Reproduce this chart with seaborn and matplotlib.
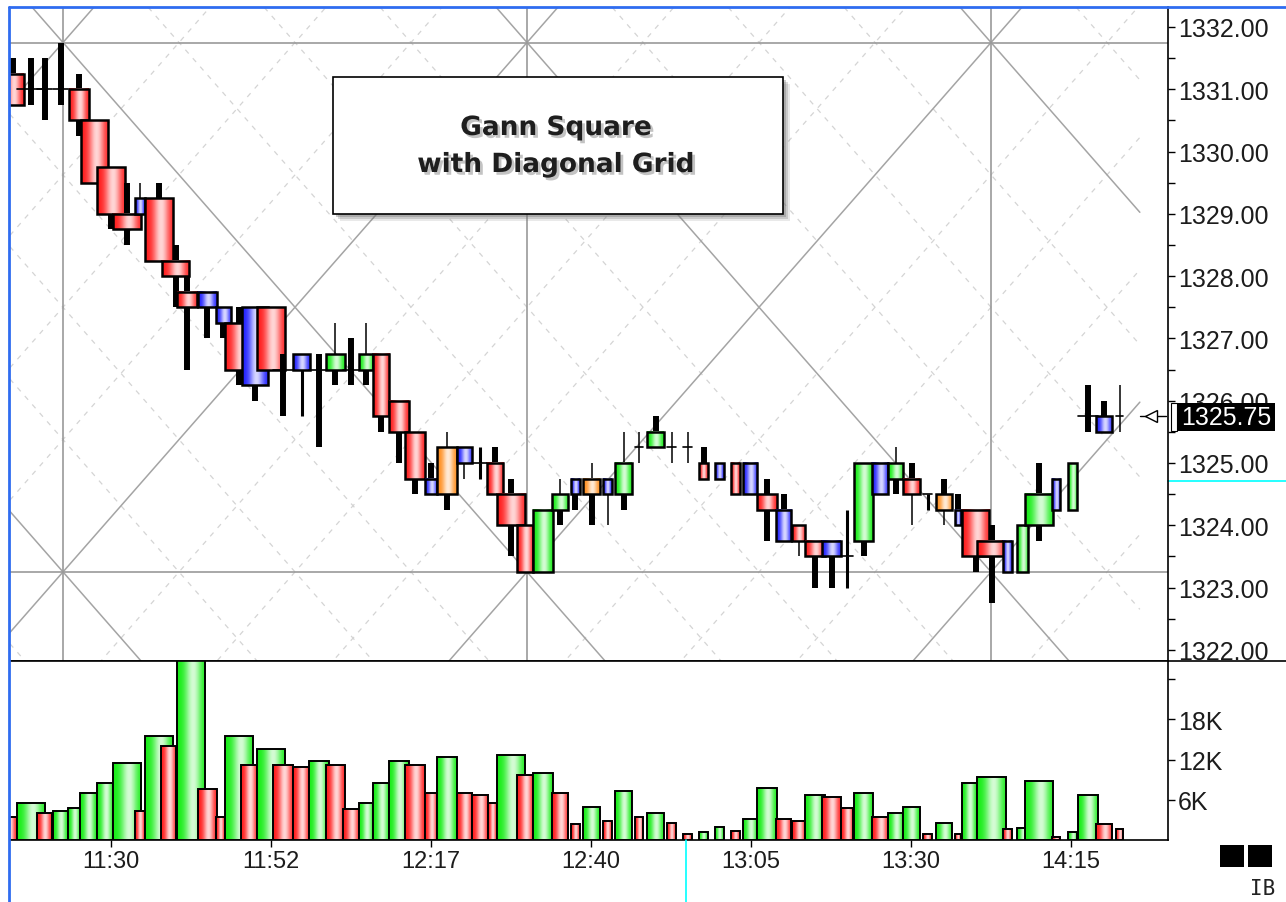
import numpy as np
import matplotlib
matplotlib.use("Agg")
import matplotlib.pyplot as plt
import matplotlib.patheffects as pe
from matplotlib.patches import Rectangle
from matplotlib.lines import Line2D
import seaborn as sns

# ------------------------------
# Bar data (x axis = bar number, 70 intraday bars)
# ------------------------------
bar_start = [-0.8, 0.12, 1.38, 2.38, 3.31, 4.06, 5.12, 6.12, 7.5, 8.12,
             9.12, 10.12, 11.44, 12.56, 13.12, 14.12, 15.12, 16.12, 17.38, 18.38,
             19.44, 20.5, 21.5, 22.38, 23.38, 24.38, 25.62, 26.38, 27.62, 28.56,
             29.56, 30.12, 31.38, 32.38, 33.56, 34.75, 35.5, 36.75, 37.5, 38.75,
             39.5, 40.75, 41.75, 42.75, 43.75, 44.75, 45.5, 46.38, 47.56, 48.56,
             49.38, 50.44, 51.62, 52.44, 53.56, 54.56, 55.5, 56.75, 57.56, 58.75,
             59.19, 60.12, 61.75, 62.62, 63.12, 64.81, 65.81, 66.44, 67.56, 68.81]
bar_end = [0.12, 1.88, 2.31, 3.31, 4.06, 5.12, 6.12, 7.88, 8.12, 9.88,
           10.06, 11.88, 12.62, 13.12, 14.88, 15.12, 16.88, 17.38, 18.44, 19.62,
           20.62, 21.5, 22.38, 23.38, 24.62, 25.62, 26.38, 27.62, 28.56, 29.56,
           30.12, 31.88, 32.38, 33.62, 34.56, 35.31, 36.56, 37.31, 38.56, 39.25,
           40.56, 41.31, 42.31, 43.31, 44.31, 45.31, 46.38, 47.62, 48.5, 49.38,
           50.62, 51.62, 52.38, 53.62, 54.56, 55.5, 56.56, 57.31, 58.56, 59.12,
           60.12, 61.94, 62.31, 63.31, 64.88, 65.31, 66.38, 67.69, 68.56, 69.25]
# candle bodies that are wider than their volume bar
body_span_fix = {0: (-0.8, 0.56), 4: (3.38, 4.62), 5: (4.12, 5.81), 6: (5.12, 6.88),
                 10: (9.19, 10.88), 11: (10.12, 11.38), 13: (12.56, 13.5),
                 15: (14.19, 15.81), 30: (29.5, 30.5), 60: (59.19, 60.88)}

opens = [1331.25, 1331.0, 1331.0, 1331.0, 1331.0, 1330.5, 1329.75, 1329.0, 1329.0, 1329.25,
         1328.25, 1327.75, 1327.5, 1327.25, 1327.25, 1326.25, 1327.5, 1326.5, 1326.5, 1326.5,
         1326.5, 1326.5, 1326.5, 1326.75, 1326.0, 1325.5, 1324.5, 1324.5, 1325.0, 1325.0,
         1325.0, 1324.5, 1324.0, 1323.25, 1324.25, 1324.5, 1324.5, 1324.5, 1324.5, 1325.25,
         1325.25, 1325.25, 1325.25, 1325.0, 1324.75, 1325.0, 1324.5, 1324.5, 1323.75, 1324.0,
         1323.75, 1323.5, 1323.5, 1323.75, 1324.5, 1324.75, 1324.75, 1324.5, 1324.25, 1324.0,
         1324.25, 1323.75, 1323.25, 1323.25, 1324.0, 1324.25, 1324.25, 1325.75, 1325.5, 1325.75]
closes = [1330.75, 1331.0, 1331.0, 1331.0, 1330.5, 1329.5, 1329.0, 1328.75, 1329.25, 1328.25,
          1328.0, 1327.5, 1327.75, 1327.5, 1326.5, 1327.5, 1326.5, 1326.5, 1326.75, 1326.5,
          1326.75, 1326.5, 1326.75, 1325.75, 1325.5, 1324.75, 1324.75, 1325.25, 1325.25, 1325.0,
          1324.5, 1324.0, 1323.25, 1324.25, 1324.5, 1324.75, 1324.75, 1324.75, 1325.0, 1325.25,
          1325.5, 1325.25, 1325.25, 1324.75, 1325.0, 1324.5, 1325.0, 1324.25, 1324.25, 1323.75,
          1323.5, 1323.75, 1323.5, 1325.0, 1325.0, 1325.0, 1324.5, 1324.5, 1324.5, 1324.25,
          1323.5, 1323.5, 1323.75, 1324.0, 1324.5, 1324.75, 1325.0, 1325.75, 1325.75, 1325.75]
highs = [1331.5, 1331.5, 1331.5, 1331.75, 1331.25, 1330.5, 1329.75, 1329.5, 1329.5, 1329.5,
         1328.5, 1328.0, 1327.75, 1327.5, 1327.5, 1327.5, 1327.5, 1326.75, 1326.75, 1326.75,
         1327.25, 1327.0, 1327.25, 1326.75, 1326.0, 1325.5, 1325.0, 1325.5, 1325.25, 1325.25,
         1325.25, 1324.75, 1324.0, 1324.25, 1324.75, 1324.75, 1325.0, 1324.75, 1325.5, 1325.5,
         1325.75, 1325.5, 1325.5, 1325.25, 1325.0, 1325.0, 1325.0, 1324.75, 1324.5, 1324.0,
         1323.75, 1323.75, 1324.25, 1325.0, 1325.0, 1325.25, 1325.0, 1324.5, 1324.75, 1324.5,
         1324.25, 1324.0, 1323.75, 1324.0, 1325.0, 1324.75, 1325.0, 1326.25, 1326.0, 1326.25]
lows = [1330.75, 1330.75, 1330.5, 1330.75, 1330.25, 1329.5, 1328.75, 1328.5, 1329.0, 1328.25,
        1327.5, 1326.5, 1327.0, 1327.0, 1326.25, 1326.0, 1326.5, 1325.75, 1325.75, 1325.25,
        1326.25, 1326.25, 1326.25, 1325.5, 1325.0, 1324.5, 1324.5, 1324.25, 1324.75, 1324.75,
        1324.5, 1323.5, 1323.25, 1323.25, 1324.0, 1324.25, 1324.0, 1324.0, 1324.25, 1325.0,
        1325.25, 1325.0, 1325.0, 1324.75, 1324.75, 1324.5, 1324.5, 1323.75, 1323.75, 1323.5,
        1323.0, 1323.0, 1323.0, 1323.5, 1324.5, 1324.5, 1324.0, 1324.25, 1324.0, 1324.0,
        1323.25, 1322.75, 1323.25, 1323.25, 1323.75, 1324.25, 1324.25, 1325.5, 1325.5, 1325.5]
# r=red, g=green, b=blue, o=orange, d=doji (tick only)
body_color = ("rdddrrrrbr" "rrbbrbrdbd" "gdgrrrbobd" "rrrggbobgd"
              "gddrbrbrbr" "rbdgbgrdob" "rrbggbgdbd")
# upper / lower wick weight: K thick, M medium, T thin
wick_style = ["KK", "KK", "KK", "KK", "KK", "KK", "KK", "KK", "TK", "KK",
              "KK", "KK", "KK", "KK", "KK", "KK", "KK", "KK", "KM", "KK",
              "TK", "KK", "TK", "KK", "KK", "KK", "KK", "TK", "KT", "MM",
              "KK", "KK", "KK", "KK", "TK", "KK", "TK", "KT", "TK", "TT",
              "KK", "TT", "TT", "KK", "KK", "KK", "KK", "KK", "KK", "KT",
              "KK", "KK", "MM", "KK", "KK", "TK", "KT", "MM", "KT", "KK",
              "KK", "KK", "KK", "KK", "KK", "KK", "KK", "KK", "KK", "TT"]

volume = [3450, 5550, 4050, 4350, 4800, 7050, 8550, 11550, 4350, 15450,
          13950, 28000, 7650, 3450, 15450, 11250, 13500, 11250, 10950, 11850,
          11250, 4650, 5550, 8550, 11850, 11250, 7050, 12450, 7050, 6750,
          5550, 12750, 9750, 10050, 7050, 2400, 4950, 2850, 7350, 3450,
          4050, 2550, 900, 1200, 1950, 1350, 3150, 7800, 3150, 2850,
          6750, 6450, 4800, 7050, 3450, 4050, 4950, 900, 2550, 900,
          8550, 9450, 1650, 1800, 8850, 450, 1200, 6750, 2400, 1650]
volume_color = ("rgrgggggrg" "rgrrgrgrrg" "rrgggrrgrr" "rgrgrrgrgr"
                "grrggrggrr" "grrgrggrgr" "ggrggrggrr")

time_ticks = [6, 16, 26, 36, 46, 56, 66]
time_labels = ["11:30", "11:52", "12:17", "12:40", "13:05", "13:30", "14:15"]
price_ticks = np.arange(1322, 1333)
vol_ticks = [6000, 12000, 18000, 24000]
vol_labels = ["6K", "12K", "18K", ""]

# Gann square settings
gann_start = 3.0
gann_width = 29.0
gann_top = 1331.75
gann_bottom = 1323.25
gann_end = 70.3
last_price = 1325.75
cursor_price = 1324.71
cursor_bar = 41.94

# ------------------------------
# Style
# ------------------------------
sns.set_theme(style="white")
plt.rcParams['font.family'] = ['Liberation Sans', 'DejaVu Sans']

W, H = 1286, 903


def fx(x):
    return x / W


def fy(y):
    return 1 - y / H


base_rgb = {'r': (1.0, 0.1, 0.1), 'g': (0.08, 0.93, 0.08),
            'b': (0.12, 0.12, 1.0), 'o': (1.0, 0.55, 0.1)}


def shade(c):
    t = np.linspace(0, 1, 48)
    w = 0.82 * np.exp(-((t - 0.56) / 0.28) ** 2)
    rgb = np.array(base_rgb[c])[None, :] * (1 - w[:, None]) + w[:, None]
    return rgb[None, :, :]


fig = plt.figure(figsize=(W / 100, H / 100), dpi=100)
fig.patch.set_facecolor('white')
ax = fig.add_axes([fx(10), fy(662), fx(1158), 654 / H])
vax = fig.add_axes([fx(10), fy(841), fx(1158), 179 / H], sharex=ax)

xmin, xmax = -0.3125, 72.06
pmin, pmax = 1321.82, 1332.32

# ------------------------------
# Gann square with diagonal grid
# ------------------------------
slope = (gann_top - gann_bottom) / gann_width
gx = np.array([xmin, gann_end])
for k in range(-8, 16):
    xk = gann_start + k * gann_width / 4
    for s in (-slope, slope):
        gy = gann_top + s * (gx - xk)
        if k % 4 == 0:
            ax.plot(gx, gy, color='#a4a4a4', lw=1.1, zorder=1)
        else:
            ax.plot(gx, gy, color='#d4d4d4', lw=0.9, ls=(0, (4, 5)), zorder=0.5)
for j in range(3):
    ax.axvline(gann_start + j * gann_width, color='#9a9a9a', lw=1.2, zorder=1)
for p in (gann_top, gann_bottom):
    ax.axhline(p, color='#9a9a9a', lw=1.2, zorder=1)

# ------------------------------
# Candles
# ------------------------------
wick_lw = {'K': 4.3, 'M': 2.2, 'T': 1.1}
for i in range(len(opens)):
    l, r = body_span_fix.get(i, (bar_start[i], bar_end[i]))
    mid = (l + r) / 2
    top = max(opens[i], closes[i])
    bot = min(opens[i], closes[i])
    z = 3 + i * 0.01
    if highs[i] > top:
        ax.plot([mid, mid], [top, highs[i]], color='black',
                lw=wick_lw[wick_style[i][0]], solid_capstyle='butt', zorder=z)
    if lows[i] < bot:
        ax.plot([mid, mid], [lows[i], bot], color='black',
                lw=wick_lw[wick_style[i][1]], solid_capstyle='butt', zorder=z)
    c = body_color[i]
    if c == 'd':
        ax.plot([l, r], [opens[i], opens[i]], color='black', lw=1.2, zorder=z)
    else:
        ax.imshow(shade(c), extent=(l, r, bot, top), aspect='auto',
                  interpolation='bilinear', zorder=z + 0.002)
        ax.add_patch(Rectangle((l, bot), r - l, top - bot, fill=False,
                               ec='black', lw=1.8, zorder=z + 0.004))

# ------------------------------
# Volume
# ------------------------------
for i in range(len(volume)):
    l, r = bar_start[i], bar_end[i]
    z = 3 + i * 0.01
    vax.imshow(shade(volume_color[i]), extent=(l, r, 0, volume[i]), aspect='auto',
               interpolation='bilinear', zorder=z)
    vax.add_patch(Rectangle((l, 0), r - l, volume[i], fill=False,
                            ec='black', lw=1.4, zorder=z + 0.004))

# ------------------------------
# Axes
# ------------------------------
for a in (ax, vax):
    a.set_facecolor('white')
    a.grid(False)
    for side in ('left', 'top'):
        a.spines[side].set_visible(False)
    a.spines['right'].set_color('black')
    a.spines['right'].set_linewidth(1.2)
    a.spines['bottom'].set_color('black')
    a.spines['bottom'].set_linewidth(1.2)
    a.yaxis.tick_right()

ax.set_yticks(price_ticks)
ax.set_yticks(np.arange(1322.5, 1332.5, 0.5), minor=True)
ax.set_yticklabels([f"{v:.2f}" for v in price_ticks])
ax.tick_params(axis='y', which='both', direction='out', right=True, left=False,
               length=5, width=1, color='black', labelsize=18, labelcolor='#1c1c1c', pad=2)
ax.tick_params(axis='x', bottom=False, labelbottom=False)

vax.set_yticks(vol_ticks)
vax.set_yticklabels(vol_labels)
vax.tick_params(axis='y', direction='out', right=True, left=False, length=5, width=1,
                color='black', labelsize=18, labelcolor='#1c1c1c', pad=2)
vax.set_xticks(time_ticks)
vax.set_xticklabels(time_labels)
vax.tick_params(axis='x', direction='out', bottom=True, length=5, width=1,
                color='black', labelsize=17, labelcolor='#1c1c1c', pad=2)

# limits last: set_yticks can widen the view
ax.set_xlim(xmin, xmax)
ax.set_ylim(pmin, pmax)
vax.set_ylim(0, 26700)

# last price marker
ax.plot([70.3, 71.95], [last_price, last_price], color='black', lw=1, clip_on=False, zorder=6)
ax.plot([71.0], [last_price], marker='<', ms=8, mfc='white', mec='black', mew=1,
        clip_on=False, zorder=7)
fig.add_artist(Rectangle((fx(1171), fy(432)), fx(6), 28 / H, transform=fig.transFigure,
                         fc='white', ec='black', lw=0.8, zorder=8))
fig.add_artist(Rectangle((fx(1177), fy(432)), fx(98), 28 / H, transform=fig.transFigure,
                         fc='black', ec='none', zorder=8))
fig.text(fx(1226), fy(418), f"{last_price:.2f}", color='white', fontsize=18,
         ha='center', va='center', zorder=9)

# cursor remnants
ax.plot([xmax, xmax + 9], [cursor_price, cursor_price], color='cyan', lw=1.2,
        clip_on=False, zorder=2)
fig.add_artist(Line2D([fx(10 + (cursor_bar + 0.3125) * 16)] * 2, [fy(841), 0],
                      color='cyan', lw=1.2))

# frame lines
fig.add_artist(Line2D([fx(10), 1], [fy(662), fy(662)], color='black', lw=1.2))
fig.add_artist(Line2D([fx(9), fx(9)], [0, fy(8)], color='#2f6cf0', lw=2))
fig.add_artist(Line2D([fx(9), 1], [fy(8), fy(8)], color='#2f6cf0', lw=2))

# bottom right marks
for x0 in (1220, 1248):
    fig.add_artist(Rectangle((fx(x0), fy(868)), fx(24), 22 / H, transform=fig.transFigure,
                             fc='black', ec='none'))
fig.text(fx(1263), fy(889), "IB", fontsize=15, family='DejaVu Sans Mono',
         ha='center', va='center', color='#222222')

# title box
for off, al in ((7, 0.15), (5, 0.25), (3, 0.35)):
    fig.add_artist(Rectangle((fx(333 + off), fy(215 + off)), fx(450), 137 / H,
                             transform=fig.transFigure, fc='#707070', ec='none', alpha=al))
fig.add_artist(Rectangle((fx(333), fy(215)), fx(450), 137 / H, transform=fig.transFigure,
                         fc='white', ec='black', lw=1.2))
shadow = [pe.withSimplePatchShadow(offset=(2, -2), shadow_rgbFace='#888888', alpha=0.5)]
fig.text(fx(556), fy(129), "Gann Square", fontsize=19, fontweight='bold', color='#1e1e1e',
         family='DejaVu Sans', ha='center', va='center', path_effects=shadow)
fig.text(fx(556), fy(166), "with Diagonal Grid", fontsize=19, fontweight='bold',
         color='#1e1e1e', family='DejaVu Sans', ha='center', va='center', path_effects=shadow)

fig.savefig("out.png", dpi=100, facecolor='white')
